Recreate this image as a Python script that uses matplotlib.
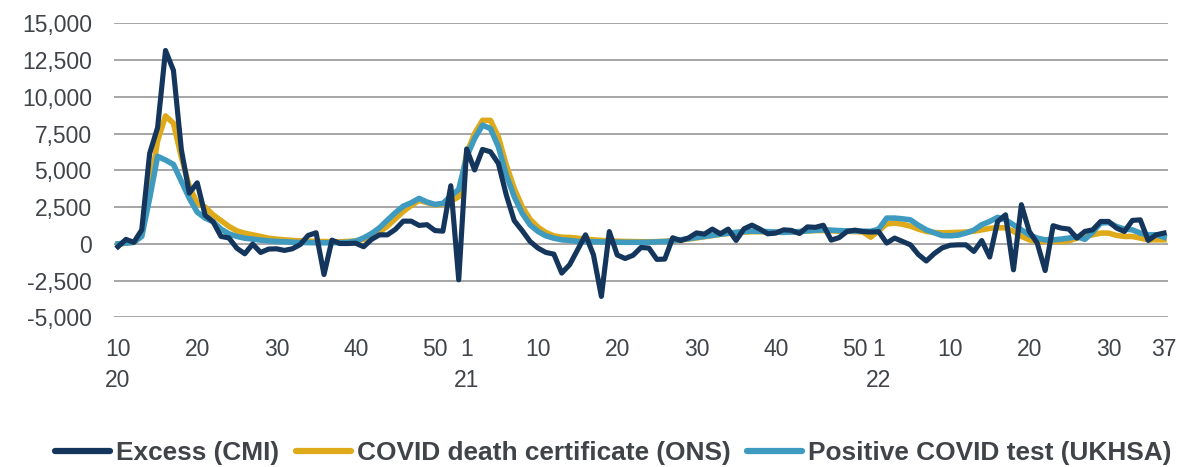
import numpy as np
import matplotlib
matplotlib.use('Agg')
import matplotlib.pyplot as plt

plt.rcParams['font.family'] = ['Liberation Sans', 'DejaVu Sans']

# weekly deaths, week 10 2020 to week 37 2022
years = [2020] * 44 + [2021] * 52 + [2022] * 37
weeks = list(range(10, 54)) + list(range(1, 53)) + list(range(1, 38))

excess_cmi = [
    -200, 300, 100, 950, 6150, 7900, 13150, 11800, 6400, 3450,
    4150, 1950, 1500, 500, 400, -300, -680, -20, -590, -360,
    -340, -450, -340, -50, 570, 750, -2090, 250, 20, 20,
    40, -200, 300, 610, 610, 980, 1540, 1540, 1250, 1300,
    900, 860, 3950, -2450, 6450, 5020, 6420, 6260, 5470, 3320,
    1580, 900, 160, -290, -590, -700, -1990, -1420, -410, 610,
    -750, -3580, 830, -760, -1000, -780, -250, -290, -1060, -1040,
    410, 220, 400, 740, 660, 1000, 680, 1000, 230, 1020,
    1270, 1000, 680, 730, 950, 910, 700, 1150, 1120, 1260,
    250, 420, 840, 930, 830, 800, 820, 50, 390, 160,
    -70, -730, -1170, -670, -280, -100, -70, -70, -520, 220,
    -900, 1520, 1970, -1770, 2660, 840, 45, -1820, 1230, 1070,
    1000, 390, 840, 950, 1520, 1520, 1070, 840, 1590, 1630,
    230, 610, 730,
]

death_cert_ons = [
    -50, 50, 100, 600, 3600, 7000, 8700, 8200, 5900, 3900,
    2760, 2500, 1970, 1580, 1180, 880, 720, 610, 500, 380,
    320, 270, 230, 200, 180, 160, 150, 140, 140, 160,
    200, 300, 500, 800, 1200, 1700, 2200, 2600, 2950, 2800,
    2650, 2700, 2900, 3200, 6150, 7500, 8400, 8400, 7280, 5360,
    3770, 2530, 1670, 1130, 770, 540, 450, 430, 380, 320,
    270, 230, 200, 180, 160, 150, 140, 140, 150, 170,
    200, 250, 320, 400, 480, 560, 640, 700, 760, 800,
    820, 820, 800, 780, 780, 800, 830, 870, 900, 900,
    880, 860, 840, 830, 800, 450, 900, 1350, 1410, 1330,
    1200, 1000, 840, 770, 750, 760, 780, 800, 850, 950,
    1050, 1100, 1080, 850, 500, 270, 160, 160, 160, 160,
    200, 390, 500, 610, 730, 730, 570, 500, 500, 390,
    270, 270, 270,
]

positive_test_ukhsa = [
    0, 50, 100, 500, 3100, 5950, 5700, 5400, 4250, 3100,
    2150, 1750, 1500, 1000, 680, 500, 380, 320, 250, 200,
    160, 140, 110, 90, 80, 70, 70, 70, 80, 100,
    180, 400, 700, 1090, 1610, 2110, 2560, 2790, 3090, 2840,
    2680, 2750, 3250, 3700, 5920, 7160, 8070, 7840, 6600, 4680,
    3210, 2080, 1290, 840, 540, 380, 270, 230, 160, 150,
    140, 130, 120, 110, 100, 100, 100, 110, 130, 150,
    200, 280, 350, 430, 500, 580, 650, 720, 780, 830,
    860, 850, 830, 800, 780, 800, 830, 880, 920, 950,
    930, 900, 880, 870, 860, 850, 1000, 1750, 1750, 1700,
    1630, 1260, 950, 750, 560, 545, 590, 730, 930, 1300,
    1520, 1800, 1630, 1290, 950, 610, 390, 270, 270, 320,
    390, 500, 300, 800, 1410, 1450, 1180, 1000, 950, 730,
    610, 610, 450,
]

tick_weeks = [(2020, 10), (2020, 20), (2020, 30), (2020, 40), (2020, 50),
              (2021, 1), (2021, 10), (2021, 20), (2021, 30), (2021, 40), (2021, 50),
              (2022, 1), (2022, 10), (2022, 20), (2022, 30), (2022, 37)]

navy = '#15365C'
gold = '#DEAA1A'
blue = '#3F9AC0'
text_col = '#404448'

x = np.arange(len(excess_cmi))

fig = plt.figure(figsize=(11.77, 4.67), dpi=100)
ax = fig.add_axes([114 / 1177, 1 - 317.3 / 467, (1168 - 114) / 1177, (317.3 - 23.3) / 467])

ax.plot(x, death_cert_ons, color=gold, lw=4.0, solid_joinstyle='round', zorder=3,
        label='COVID death certificate (ONS)')
ax.plot(x, positive_test_ukhsa, color=blue, lw=4.0, solid_joinstyle='round', zorder=4,
        label='Positive COVID test (UKHSA)')
ax.plot(x, excess_cmi, color=navy, lw=3.7, solid_joinstyle='round', zorder=5,
        label='Excess (CMI)')

ax.set_xlim(-0.5, len(x) - 0.5)
ax.set_ylim(-5000, 15000)
yt = np.arange(-5000, 15001, 2500)
ax.set_yticks(yt)
ax.set_yticklabels([f'{v:,}' for v in yt])

pos = []
labs = []
for y, w in tick_weeks:
    idx = [k for k in range(len(weeks)) if years[k] == y and weeks[k] == w][0]
    pos.append(idx)
    if idx == 0 or w == 1:
        labs.append(f'{w}\n{str(y)[2:]}')
    else:
        labs.append(str(w))
ax.set_xticks(pos)
ax.set_xticklabels(labs, linespacing=1.42)

ax.grid(axis='y', color='#A6A6A6', lw=1.4)
ax.set_axisbelow(True)
for s in ax.spines.values():
    s.set_visible(False)
ax.tick_params(axis='both', length=0, labelsize=16.5, colors=text_col)
ax.tick_params(axis='y', pad=16)
ax.tick_params(axis='x', pad=15)

handles, labels = ax.get_legend_handles_labels()
order = [2, 0, 1]
leg = fig.legend([handles[k] for k in order], [labels[k] for k in order],
                 loc='center', bbox_to_anchor=(0.521, 0.029), ncol=3, frameon=False,
                 prop={'weight': 'bold', 'size': 18.9}, handlelength=2.1,
                 handletextpad=0.22, columnspacing=0.65)
for t in leg.get_texts():
    t.set_color(text_col)
for h in leg.get_lines():
    h.set_linewidth(4.5)
    h.set_solid_capstyle('round')

fig.savefig('out.png', dpi=100)
